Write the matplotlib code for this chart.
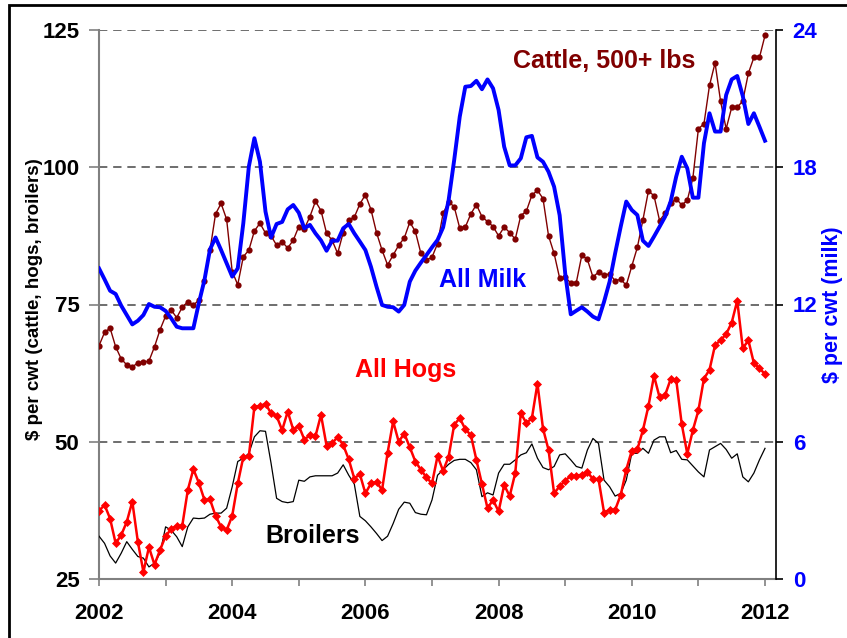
import matplotlib
matplotlib.use("Agg")
import matplotlib.pyplot as plt
import numpy as np
from matplotlib.patches import Rectangle
from matplotlib.ticker import FixedLocator

plt.rcParams['font.family'] = ['Liberation Sans', 'DejaVu Sans']

# Monthly data, Jan 2002 .. Jan 2012
start_year = 2002
n_months = 121

cattle = [67.5, 69.9, 70.7, 67.3, 65.1, 64.0, 63.6, 64.4, 64.5, 64.7, 67.3, 70.4,
          72.9, 74.0, 72.6, 74.5, 75.5, 74.9, 75.8, 79.3, 84.9, 91.5, 93.4, 90.5,
          81.0, 78.6, 83.7, 84.9, 88.4, 89.8, 88.0, 87.5, 85.8, 86.4, 85.3, 86.7,
          89.2, 88.8, 91.0, 93.8, 92.1, 88.0, 86.7, 84.3, 88.1, 90.4, 90.9, 93.3,
          95.0, 92.3, 88.1, 84.9, 82.2, 84.0, 85.8, 87.1, 90.0, 88.3, 84.3, 83.1,
          83.6, 86.1, 91.6, 93.7, 92.8, 88.9, 89.1, 91.5, 93.2, 91.0, 90.1, 89.2,
          87.5, 89.1, 88.1, 86.9, 91.2, 92.0, 94.9, 95.8, 94.3, 87.5, 84.3, 79.8,
          80.0, 78.9, 79.0, 84.0, 83.2, 80.0, 80.9, 80.3, 80.6, 79.3, 79.6, 78.5,
          82.0, 85.4, 90.4, 95.7, 94.8, 90.3, 91.6, 93.4, 94.3, 93.1, 94.0, 98.0,
          107.0, 107.9, 114.9, 119.0, 112.0, 107.0, 110.9, 110.9, 112.1, 117.1, 120.0, 120.0,
          124.0]

hogs = [37.4, 38.5, 36.0, 31.5, 33.0, 35.4, 39.1, 31.8, 26.3, 30.8, 27.6, 30.3,
        32.8, 34.1, 34.7, 34.7, 41.2, 45.0, 42.5, 39.4, 39.5, 36.5, 34.5, 33.9,
        36.5, 42.4, 47.2, 47.4, 56.4, 56.5, 56.9, 55.2, 54.7, 52.1, 55.5, 52.2,
        52.9, 50.4, 51.2, 51.0, 54.9, 49.3, 49.7, 50.9, 49.4, 46.8, 43.3, 44.1,
        40.6, 42.4, 42.7, 41.2, 48.0, 53.7, 50.0, 51.5, 49.0, 46.4, 44.9, 43.5,
        42.4, 47.4, 44.7, 47.3, 53.1, 54.3, 52.3, 51.2, 46.7, 42.3, 37.9, 39.4,
        37.3, 42.1, 40.1, 44.3, 55.2, 53.4, 54.3, 60.6, 52.4, 48.5, 40.6, 41.9,
        42.9, 43.8, 43.8, 44.0, 44.5, 43.2, 43.2, 37.1, 37.6, 37.6, 40.3, 44.9,
        48.4, 48.6, 52.1, 56.5, 62.0, 58.1, 58.5, 61.4, 61.3, 53.2, 47.8, 52.1,
        55.7, 61.5, 63.1, 67.6, 68.5, 69.6, 71.7, 75.7, 67.0, 68.5, 64.3, 63.4,
        62.3]

broilers = [32.8, 31.5, 29.2, 27.9, 29.7, 31.8, 30.4, 29.1, 28.8, 27.2, 27.9, 29.7,
            34.5, 33.9, 32.7, 30.9, 34.5, 36.1, 36.0, 36.1, 36.8, 37.0, 37.0, 37.9,
            41.8, 46.4, 47.0, 47.9, 50.9, 52.0, 51.9, 46.1, 39.7, 39.1, 38.9, 39.1,
            43.0, 42.8, 43.6, 43.8, 43.8, 43.8, 43.8, 44.3, 45.8, 43.9, 42.3, 36.4,
            35.6, 34.5, 33.3, 32.0, 32.8, 35.1, 37.7, 39.0, 38.8, 37.1, 36.8, 36.7,
            39.4, 43.9, 44.9, 45.9, 46.6, 46.8, 46.8, 46.2, 44.9, 40.0, 40.7, 40.3,
            44.3, 45.9, 45.9, 46.7, 47.6, 48.0, 49.6, 47.0, 45.3, 44.9, 45.5, 47.6,
            47.8, 46.7, 45.5, 45.2, 48.5, 50.6, 49.7, 43.0, 41.8, 40.1, 40.6, 43.0,
            47.9, 47.9, 48.8, 47.9, 50.3, 50.9, 50.9, 48.0, 48.4, 46.8, 46.7, 45.6,
            44.5, 43.6, 48.5, 49.1, 49.7, 48.6, 47.0, 47.8, 43.6, 42.7, 44.3, 46.7,
            48.8]

milk = [13.58, 13.10, 12.60, 12.46, 11.95, 11.54, 11.13, 11.29, 11.54, 12.02, 11.90, 11.88,
        11.72, 11.40, 11.03, 10.96, 10.96, 10.96, 12.07, 13.07, 14.41, 14.93, 14.38, 13.80,
        13.22, 13.58, 15.55, 18.03, 19.27, 18.24, 16.06, 14.93, 15.52, 15.61, 16.16, 16.35,
        16.01, 15.33, 15.48, 15.11, 14.80, 14.35, 14.79, 14.79, 15.33, 15.52, 15.11, 14.75,
        14.38, 13.65, 12.78, 11.98, 11.90, 11.88, 11.69, 11.98, 13.00, 13.48, 13.83, 14.16,
        14.50, 14.82, 15.37, 16.57, 18.32, 20.21, 21.52, 21.55, 21.78, 21.41, 21.84, 21.45,
        20.50, 18.90, 18.08, 18.08, 18.39, 19.31, 19.37, 18.43, 18.24, 17.80, 17.15, 15.90,
        13.36, 11.57, 11.73, 11.88, 11.69, 11.47, 11.35, 12.12, 13.00, 14.24, 15.40, 16.50,
        16.13, 15.91, 14.79, 14.56, 14.97, 15.40, 15.84, 16.50, 17.59, 18.46, 17.95, 16.67,
        16.67, 19.05, 20.36, 19.56, 19.56, 21.16, 21.84, 21.99, 21.11, 19.89, 20.36, 19.77,
        19.16]

left_ticks = [25, 50, 75, 100, 125]
right_ticks = [0, 6, 12, 18, 24]
year_labels = ['2002', '2004', '2006', '2008', '2010', '2012']

t = start_year + np.arange(n_months) / 12.0

W, H = 847, 638
fig = plt.figure(figsize=(W / 100, H / 100), dpi=100)
fig.patch.set_facecolor('white')

# outer frame (right/bottom edges fall outside the canvas)
fig.patches.append(Rectangle((9 / W, -10 / H), 850 / W, 643 / H, transform=fig.transFigure,
                             fill=False, edgecolor='black', linewidth=2))

ax = fig.add_axes([99 / W, 1 - 579 / H, 677 / W, 549 / H])
ax2 = ax.twinx()

ax.set_xlim(2002, 2002 + 677 / 66.6)
ax.set_ylim(25, 125)
ax2.set_ylim(0, 24)

# grid lines
for v in left_ticks[1:]:
    ax.axhline(v, color='#555555', lw=1.2, dashes=(5, 3.5), zorder=1)

ax.plot(t, broilers, color='black', lw=0.9, zorder=3)
ax.plot(t, hogs, color='#FF0000', lw=1.8, marker='D', markersize=3.6,
        markeredgewidth=0.5, zorder=4)
ax.plot(t, cattle, color='#800000', lw=1.0, marker='o', markersize=4.5,
        markeredgewidth=0, zorder=5)
ax2.plot(t, milk, color='#0000FF', lw=2.8, zorder=6)

# ticks
ax.set_yticks(left_ticks)
ax.set_yticklabels([str(v) for v in left_ticks], fontsize=16, fontweight='bold')
ax.set_xticks([2002, 2004, 2006, 2008, 2010, 2012])
ax.set_xticklabels(year_labels, fontsize=16, fontweight='bold')
ax.xaxis.set_minor_locator(FixedLocator([2003, 2005, 2007, 2009, 2011]))
ax.tick_params(axis='x', which='both', direction='out', length=5, width=1.2,
               color='#808080', pad=12)
ax.tick_params(axis='y', direction='out', length=7, width=1.2, color='#808080', pad=7)

ax2.set_yticks(right_ticks)
ax2.set_yticklabels([str(v) for v in right_ticks], fontsize=16, fontweight='bold',
                    color='#0000FF')
ax2.tick_params(axis='y', direction='out', length=5, width=1.2, color='black', pad=7)

for a in (ax, ax2):
    a.spines['top'].set_visible(False)
ax.spines['left'].set_color('#808080')
ax.spines['left'].set_linewidth(1.5)
ax.spines['bottom'].set_color('#808080')
ax.spines['bottom'].set_linewidth(1.5)
ax.spines['right'].set_visible(False)
ax2.spines['left'].set_visible(False)
ax2.spines['bottom'].set_visible(False)
ax2.spines['right'].set_color('black')
ax2.spines['right'].set_linewidth(1.2)

ax.set_ylabel('$ per cwt (cattle, hogs, broilers)', fontsize=13.5, fontweight='bold')
ax.yaxis.set_label_coords(-0.082, 0.51)
ax2.set_ylabel('$ per cwt (milk)', fontsize=15.5, fontweight='bold', color='#0000FF',
               rotation=90)
ax2.yaxis.set_label_coords(1.068, 0.5)

# series labels
ax.text(2009.59, 118.1, 'Cattle, 500+ lbs', color='#800000', fontsize=18,
        fontweight='bold', ha='center', va='baseline', zorder=7)
ax.text(2007.76, 78.2, 'All Milk', color='#0000FF', fontsize=18,
        fontweight='bold', ha='center', va='baseline', zorder=7)
ax.text(2006.61, 61.8, 'All Hogs', color='#FF0000', fontsize=18,
        fontweight='bold', ha='center', va='baseline', zorder=7)
ax.text(2005.21, 31.6, 'Broilers', color='black', fontsize=18,
        fontweight='bold', ha='center', va='baseline', zorder=7)

fig.savefig('out.png', dpi=100)
